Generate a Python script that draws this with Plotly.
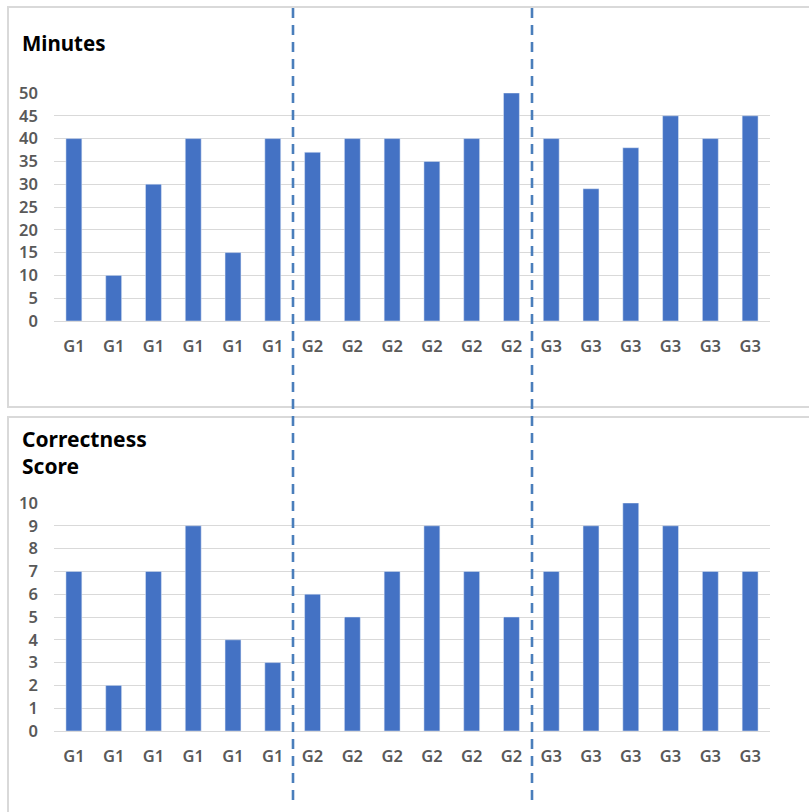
import plotly.graph_objects as go

# Category labels (six sessions per group)
categories = ["G1"] * 6 + ["G2"] * 6 + ["G3"] * 6
# Minutes spent per session
minutes = [40, 10, 30, 40, 15, 40,
           37, 40, 40, 35, 40, 50,
           40, 29, 38, 45, 40, 45]
# Correctness score per session
scores = [7, 2, 7, 9, 4, 3,
          6, 5, 7, 9, 7, 5,
          7, 9, 10, 9, 7, 7]

minutes_ticks = [0, 5, 10, 15, 20, 25, 30, 35, 40, 45, 50]
score_ticks = list(range(0, 11))

W, H = 809, 812
BAR = "#4472C4"
GRID = "#d9d9d9"
LABEL = "#595959"
FONT = "Noto Sans"


def px(x):
    return x / W


def py(y):
    return 1 - y / H


xs = list(range(len(categories)))

fig = go.Figure()
fig.add_trace(go.Bar(x=xs, y=minutes, marker_color=BAR, xaxis="x", yaxis="y",
                     width=0.4, showlegend=False))
fig.add_trace(go.Bar(x=xs, y=scores, marker_color=BAR, xaxis="x2", yaxis="y2",
                     width=0.4, showlegend=False))

x_common = dict(
    tickmode="array", tickvals=xs, ticktext=categories,
    range=[-0.5, len(xs) - 0.5], showgrid=False, zeroline=False,
    showline=False, ticks="", ticklabelstandoff=13, automargin=False,
    tickfont=dict(family=FONT, size=16.5, color=LABEL, weight=600),
    fixedrange=True,
)
y_common = dict(
    showgrid=True, gridcolor=GRID, gridwidth=1.3, zeroline=True,
    zerolinecolor=GRID, zerolinewidth=1.3, showline=False, ticks="",
    ticklabelstandoff=15, automargin=False,
    tickfont=dict(family=FONT, size=16.5, color=LABEL, weight=600),
    fixedrange=True,
)

fig.update_layout(
    width=W, height=H,
    margin=dict(l=0, r=0, t=0, b=0, autoexpand=False),
    paper_bgcolor="white", plot_bgcolor="white",
    bargap=0.6,
    xaxis=dict(domain=[px(54), px(770)], anchor="y", **x_common),
    yaxis=dict(domain=[py(321), py(93)], anchor="x", range=[0, 50],
               tickvals=minutes_ticks, **y_common),
    xaxis2=dict(domain=[px(54), px(770)], anchor="y2", **x_common),
    yaxis2=dict(domain=[py(731), py(503)], anchor="x2", range=[0, 10],
                tickvals=score_ticks, **y_common),
)

# Panel frames
fig.add_shape(type="rect", xref="paper", yref="paper",
              x0=px(8), x1=px(812), y0=py(407), y1=py(7),
              line=dict(color=GRID, width=2), layer="below")
fig.add_shape(type="rect", xref="paper", yref="paper",
              x0=px(8), x1=px(812), y0=py(816), y1=py(417),
              line=dict(color=GRID, width=2), layer="below")

# Group separators spanning both panels
for xline in (293, 532):
    fig.add_shape(type="line", xref="paper", yref="paper",
                  x0=px(xline), x1=px(xline), y0=py(800), y1=py(8),
                  line=dict(color="#4a7ebb", width=2.6, dash="10px,7px"))

# Panel titles
fig.add_annotation(text="<b>Minutes</b>", xref="paper", yref="paper",
                   x=px(20), y=py(43), xanchor="left", yanchor="middle",
                   showarrow=False,
                   font=dict(family=FONT, size=20.5, color="black"))
fig.add_annotation(text="<b>Correctness<br>Score</b>", xref="paper", yref="paper",
                   x=px(20), y=py(452), xanchor="left", yanchor="middle",
                   showarrow=False, align="left",
                   font=dict(family=FONT, size=21, color="black"))

fig.write_html("out.html")
